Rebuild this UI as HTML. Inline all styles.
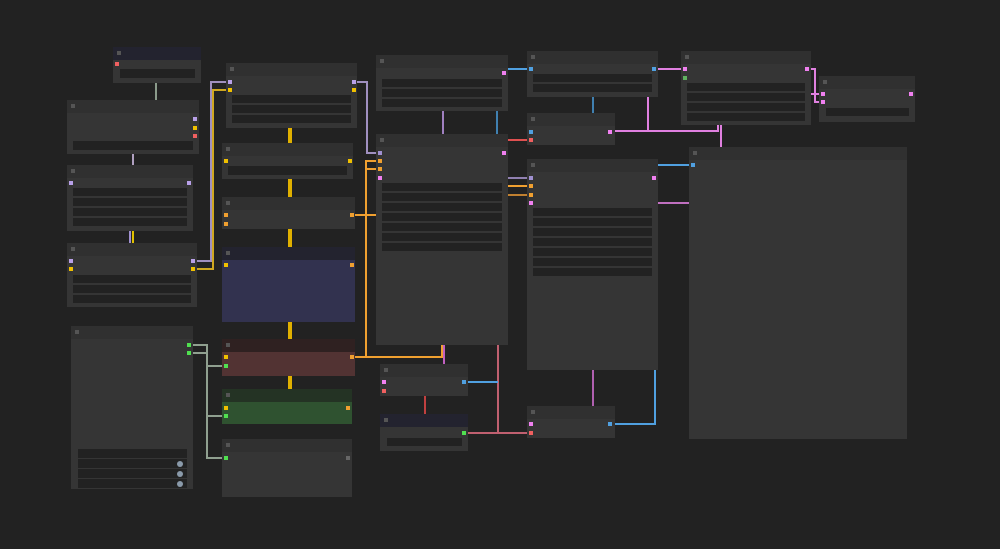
<!DOCTYPE html>
<html><head><meta charset="utf-8"><style>
html,body{margin:0;padding:0;background:#222;width:1000px;height:549px;overflow:hidden}
svg{display:block}
</style></head><body>
<svg width="1000" height="549" viewBox="0 0 1000 549" xmlns="http://www.w3.org/2000/svg">
<rect width="1000" height="549" fill="#222"/>
<!-- wires -->
<g fill="none" stroke-width="2">
<path d="M156 83V100" stroke="#8a9a8a"/>
<path d="M133 154V165" stroke="#b0a0c0"/>
<path d="M130 231V243" stroke="#a090d0"/>
<path d="M133 231V243" stroke="#e0c000"/>
<path d="M197 261H211V82H228" stroke="#a090c0"/>
<path d="M197 269H213V90H228" stroke="#d0a820"/>
<path d="M357 82H367V153H380" stroke="#a090c0"/>
<path d="M290 128V143M290 179V197M290 229V247M290 322V339M290 376V389" stroke="#e0b000" stroke-width="4"/>
<path d="M355 215H376M380 161H366V357H355M380 169H366" stroke="#f0a030"/>
<path d="M366 357H442V345" stroke="#f0a030"/>
<path d="M444 345V364" stroke="#c060c0"/>
<path d="M443 111V134" stroke="#a080c0"/>
<path d="M497 111V134" stroke="#4080b0"/>
<path d="M508 140H527" stroke="#e05050"/>
<path d="M498 134V433M468 433H527" stroke="#c06070"/>
<path d="M468 382H498" stroke="#50a0e0"/>
<path d="M425 396V414" stroke="#c04040"/>
<path d="M508 69H527" stroke="#50a0e0"/>
<path d="M593 97V113" stroke="#4080b0"/>
<path d="M615 131H718V125M648 97V131M721 125V147" stroke="#e080e0"/>
<path d="M508 178H527" stroke="#9080b0"/>
<path d="M508 186H527" stroke="#f0a030"/>
<path d="M508 195H527" stroke="#c08030"/>
<path d="M658 165H689" stroke="#50a0e0"/>
<path d="M658 203H689" stroke="#c070c0"/>
<path d="M593 370V406" stroke="#b060b0"/>
<path d="M655 370V424H615" stroke="#50a0e0"/>
<path d="M658 69H681" stroke="#e080e0"/>
<path d="M811 69H815V102H819M811 94H819" stroke="#e080e0"/>
<path d="M193 345H207V458H222M193 353H207M207 366H222M207 416H222" stroke="#90a090"/>
</g>
<!-- nodes -->
<g id="nodes">
<!-- N1 -->
<rect x="113" y="47" width="88" height="36" fill="#353535"/><rect x="113" y="47" width="88" height="13" fill="#23232f"/>
<rect x="120" y="69" width="75" height="9" fill="#222"/>
<!-- N2 -->
<rect x="67" y="100" width="132" height="54" fill="#353535"/><rect x="67" y="100" width="132" height="13" fill="#303030"/>
<rect x="73" y="141" width="120" height="9" fill="#222"/>
<!-- N3 -->
<rect x="67" y="165" width="126" height="66" fill="#353535"/><rect x="67" y="165" width="126" height="13" fill="#303030"/>
<rect x="73" y="188" width="114" height="8" fill="#222"/><rect x="73" y="198" width="114" height="8" fill="#222"/><rect x="73" y="208" width="114" height="8" fill="#222"/><rect x="73" y="218" width="114" height="8" fill="#222"/>
<!-- N4 -->
<rect x="67" y="243" width="130" height="64" fill="#353535"/><rect x="67" y="243" width="130" height="13" fill="#303030"/>
<rect x="73" y="275" width="118" height="8" fill="#222"/><rect x="73" y="285" width="118" height="8" fill="#222"/><rect x="73" y="295" width="118" height="8" fill="#222"/>
<!-- N5 -->
<rect x="71" y="326" width="122" height="163" fill="#353535"/><rect x="71" y="326" width="122" height="13" fill="#303030"/>
<rect x="78" y="449" width="109" height="9" fill="#222"/><rect x="78" y="459" width="109" height="9" fill="#222"/><rect x="78" y="469" width="109" height="9" fill="#222"/><rect x="78" y="479" width="109" height="9" fill="#222"/>
<circle cx="180" cy="464" r="3" fill="#8a9aaa"/><circle cx="180" cy="474" r="3" fill="#8a9aaa"/><circle cx="180" cy="484" r="3" fill="#8a9aaa"/>
<!-- N6 -->
<rect x="226" y="63" width="131" height="65" fill="#353535"/><rect x="226" y="63" width="131" height="13" fill="#303030"/>
<rect x="232" y="95" width="119" height="8" fill="#222"/><rect x="232" y="105" width="119" height="8" fill="#222"/><rect x="232" y="115" width="119" height="8" fill="#222"/>
<!-- N7 -->
<rect x="222" y="143" width="131" height="36" fill="#353535"/><rect x="222" y="143" width="131" height="13" fill="#303030"/>
<rect x="228" y="166" width="119" height="9" fill="#222"/>
<!-- N8 -->
<rect x="222" y="197" width="133" height="32" fill="#353535"/><rect x="222" y="197" width="133" height="13" fill="#303030"/>
<!-- N9 -->
<rect x="222" y="247" width="133" height="75" fill="#32324f"/><rect x="222" y="247" width="133" height="13" fill="#23232f"/>
<!-- N10 -->
<rect x="222" y="339" width="133" height="37" fill="#523333"/><rect x="222" y="339" width="133" height="13" fill="#2f2121"/>
<!-- N11 -->
<rect x="222" y="389" width="130" height="35" fill="#2f5230"/><rect x="222" y="389" width="130" height="13" fill="#243324"/>
<!-- N12 -->
<rect x="222" y="439" width="130" height="58" fill="#353535"/><rect x="222" y="439" width="130" height="13" fill="#303030"/>
<!-- N13 -->
<rect x="376" y="55" width="132" height="56" fill="#353535"/><rect x="376" y="55" width="132" height="13" fill="#303030"/>
<rect x="382" y="79" width="120" height="8" fill="#222"/><rect x="382" y="89" width="120" height="8" fill="#222"/><rect x="382" y="99" width="120" height="8" fill="#222"/>
<!-- N14 -->
<rect x="376" y="134" width="132" height="211" fill="#353535"/><rect x="376" y="134" width="132" height="13" fill="#303030"/>
<g fill="#222"><rect x="382" y="183" width="120" height="8"/><rect x="382" y="193" width="120" height="8"/><rect x="382" y="203" width="120" height="8"/><rect x="382" y="213" width="120" height="8"/><rect x="382" y="223" width="120" height="8"/><rect x="382" y="233" width="120" height="8"/><rect x="382" y="243" width="120" height="8"/></g>
<!-- N15 -->
<rect x="380" y="364" width="88" height="32" fill="#353535"/><rect x="380" y="364" width="88" height="13" fill="#303030"/>
<!-- N16 -->
<rect x="380" y="414" width="88" height="37" fill="#353535"/><rect x="380" y="414" width="88" height="13" fill="#23232f"/>
<rect x="387" y="438" width="75" height="8" fill="#222"/>
<!-- N17 -->
<rect x="527" y="51" width="131" height="46" fill="#353535"/><rect x="527" y="51" width="131" height="13" fill="#303030"/>
<rect x="533" y="74" width="119" height="8" fill="#222"/><rect x="533" y="84" width="119" height="8" fill="#222"/>
<!-- N18 -->
<rect x="527" y="113" width="88" height="32" fill="#353535"/><rect x="527" y="113" width="88" height="13" fill="#303030"/>
<!-- N19 -->
<rect x="527" y="159" width="131" height="211" fill="#353535"/><rect x="527" y="159" width="131" height="13" fill="#303030"/>
<g fill="#222"><rect x="533" y="208" width="119" height="8"/><rect x="533" y="218" width="119" height="8"/><rect x="533" y="228" width="119" height="8"/><rect x="533" y="238" width="119" height="8"/><rect x="533" y="248" width="119" height="8"/><rect x="533" y="258" width="119" height="8"/><rect x="533" y="268" width="119" height="8"/></g>
<!-- N20 -->
<rect x="527" y="406" width="88" height="32" fill="#353535"/><rect x="527" y="406" width="88" height="13" fill="#303030"/>
<!-- N21 -->
<rect x="681" y="51" width="130" height="74" fill="#353535"/><rect x="681" y="51" width="130" height="13" fill="#303030"/>
<g fill="#222"><rect x="687" y="83" width="118" height="8"/><rect x="687" y="93" width="118" height="8"/><rect x="687" y="103" width="118" height="8"/><rect x="687" y="113" width="118" height="8"/></g>
<!-- N22 -->
<rect x="819" y="76" width="96" height="46" fill="#353535"/><rect x="819" y="76" width="96" height="13" fill="#303030"/>
<rect x="826" y="108" width="83" height="8" fill="#222"/>
<!-- N23 -->
<rect x="689" y="147" width="218" height="292" fill="#353535"/><rect x="689" y="147" width="218" height="13" fill="#303030"/>
</g>
<!-- collapse icons -->
<g fill="#555">
<rect x="117" y="51" width="4" height="4"/><rect x="71" y="104" width="4" height="4"/><rect x="71" y="169" width="4" height="4"/><rect x="71" y="247" width="4" height="4"/><rect x="75" y="330" width="4" height="4"/>
<rect x="230" y="67" width="4" height="4"/><rect x="226" y="147" width="4" height="4"/><rect x="226" y="201" width="4" height="4"/><rect x="226" y="251" width="4" height="4"/><rect x="226" y="343" width="4" height="4"/><rect x="226" y="393" width="4" height="4"/><rect x="226" y="443" width="4" height="4"/>
<rect x="380" y="59" width="4" height="4"/><rect x="380" y="138" width="4" height="4"/><rect x="384" y="368" width="4" height="4"/><rect x="384" y="418" width="4" height="4"/>
<rect x="531" y="55" width="4" height="4"/><rect x="531" y="117" width="4" height="4"/><rect x="531" y="163" width="4" height="4"/><rect x="531" y="410" width="4" height="4"/>
<rect x="685" y="55" width="4" height="4"/><rect x="823" y="80" width="4" height="4"/><rect x="693" y="151" width="4" height="4"/>
</g>
<!-- slots -->
<g>
<rect x="115" y="62" width="4" height="4" fill="#f06060"/>
<rect x="193" y="117" width="4" height="4" fill="#b8a0e8"/><rect x="193" y="126" width="4" height="4" fill="#f0c000"/><rect x="193" y="134" width="4" height="4" fill="#f06060"/>
<rect x="69" y="181" width="4" height="4" fill="#b8a0e8"/><rect x="187" y="181" width="4" height="4" fill="#b8a0e8"/>
<rect x="69" y="259" width="4" height="4" fill="#b8a0e8"/><rect x="69" y="267" width="4" height="4" fill="#f0c000"/><rect x="191" y="259" width="4" height="4" fill="#b8a0e8"/><rect x="191" y="267" width="4" height="4" fill="#f0c000"/>
<rect x="187" y="343" width="4" height="4" fill="#50e050"/><rect x="187" y="351" width="4" height="4" fill="#50e050"/>
<rect x="228" y="80" width="4" height="4" fill="#b8a0e8"/><rect x="228" y="88" width="4" height="4" fill="#f0c000"/><rect x="352" y="80" width="4" height="4" fill="#b8a0e8"/><rect x="352" y="88" width="4" height="4" fill="#f0c000"/>
<rect x="224" y="159" width="4" height="4" fill="#f0c000"/><rect x="348" y="159" width="4" height="4" fill="#f0c000"/>
<rect x="224" y="213" width="4" height="4" fill="#f0a030"/><rect x="224" y="222" width="4" height="4" fill="#f0a030"/><rect x="350" y="213" width="4" height="4" fill="#f0a030"/>
<rect x="224" y="263" width="4" height="4" fill="#f0c000"/><rect x="350" y="263" width="4" height="4" fill="#f0a030"/>
<rect x="224" y="355" width="4" height="4" fill="#f0c000"/><rect x="224" y="364" width="4" height="4" fill="#50e050"/><rect x="350" y="355" width="4" height="4" fill="#f0a030"/>
<rect x="224" y="406" width="4" height="4" fill="#f0c000"/><rect x="224" y="414" width="4" height="4" fill="#50e050"/><rect x="346" y="406" width="4" height="4" fill="#f0a030"/>
<rect x="224" y="456" width="4" height="4" fill="#50e050"/><rect x="346" y="456" width="4" height="4" fill="#666"/>
<rect x="502" y="71" width="4" height="4" fill="#f080f0"/>
<rect x="378" y="151" width="4" height="4" fill="#a090d0"/><rect x="378" y="159" width="4" height="4" fill="#f0a030"/><rect x="378" y="167" width="4" height="4" fill="#f0a030"/><rect x="378" y="176" width="4" height="4" fill="#f080f0"/><rect x="502" y="151" width="4" height="4" fill="#f080f0"/>
<rect x="382" y="380" width="4" height="4" fill="#f080f0"/><rect x="382" y="389" width="4" height="4" fill="#f06060"/><rect x="462" y="380" width="4" height="4" fill="#50a0e0"/>
<rect x="462" y="431" width="4" height="4" fill="#50e050"/>
<rect x="529" y="67" width="4" height="4" fill="#50a0e0"/><rect x="652" y="67" width="4" height="4" fill="#50a0e0"/>
<rect x="529" y="130" width="4" height="4" fill="#50a0e0"/><rect x="529" y="138" width="4" height="4" fill="#f06060"/><rect x="608" y="130" width="4" height="4" fill="#f080f0"/>
<rect x="529" y="176" width="4" height="4" fill="#a090d0"/><rect x="529" y="184" width="4" height="4" fill="#f0a030"/><rect x="529" y="193" width="4" height="4" fill="#f0a030"/><rect x="529" y="201" width="4" height="4" fill="#f080f0"/><rect x="652" y="176" width="4" height="4" fill="#f080f0"/>
<rect x="529" y="422" width="4" height="4" fill="#f080f0"/><rect x="529" y="431" width="4" height="4" fill="#f06060"/><rect x="608" y="422" width="4" height="4" fill="#50a0e0"/>
<rect x="683" y="67" width="4" height="4" fill="#f080f0"/><rect x="683" y="76" width="4" height="4" fill="#60b060"/><rect x="805" y="67" width="4" height="4" fill="#f080f0"/>
<rect x="821" y="92" width="4" height="4" fill="#f080f0"/><rect x="821" y="100" width="4" height="4" fill="#f080f0"/><rect x="909" y="92" width="4" height="4" fill="#f080f0"/>
<rect x="691" y="163" width="4" height="4" fill="#50a0e0"/>
</g>
</svg>
</body></html>
